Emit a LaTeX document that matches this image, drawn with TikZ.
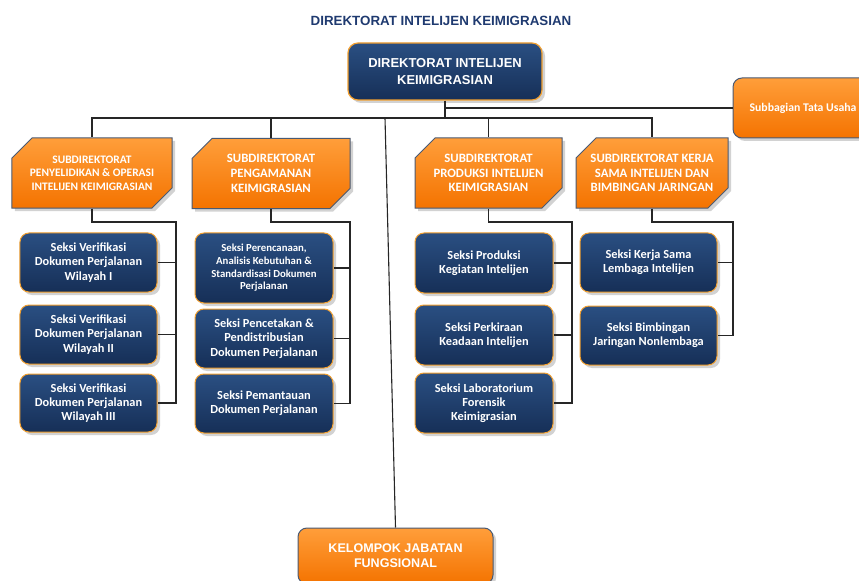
\documentclass[tikz,border=0pt]{standalone}
\usepackage{fontspec}
\setmainfont{Carlito}
\newfontfamily\arialfont{Liberation Sans}
\usetikzlibrary{shapes.misc,shadows}
\definecolor{navytop}{HTML}{2A4F82}
\definecolor{navybot}{HTML}{162F57}
\definecolor{orgtop}{HTML}{FF9E3A}
\definecolor{orgbot}{HTML}{F47300}
\definecolor{orgedge}{HTML}{F2A030}
\definecolor{grayedge}{HTML}{4A5A73}
\definecolor{titleblue}{HTML}{1F3A70}
\begin{document}
\begin{tikzpicture}[x=1bp,y=-1bp,
  conn/.style={draw=black!85,line width=1.1bp},
  shad/.style={drop shadow={opacity=0.35,shadow xshift=3bp,shadow yshift=-3bp}},
  seksi/.style={shad,rounded corners=9bp,draw=orgedge,line width=1bp,
    top color=navytop,bottom color=navybot,text=white,align=center,inner sep=2bp,
    font=\bfseries\fontsize{12.4}{14.3}\selectfont},
  subdir/.style={shad,chamfered rectangle,chamfered rectangle corners={north west,south east},
    chamfered rectangle xsep=10bp,chamfered rectangle ysep=10bp,
    draw=grayedge,line width=1bp,top color=orgtop,bottom color=orgbot,text=white,
    align=center,inner sep=2bp,minimum height=70bp,
    font=\bfseries\fontsize{12.8}{14.8}\selectfont},
  orangebox/.style={shad,rounded corners=9bp,draw=grayedge,line width=1bp,
    top color=orgtop,bottom color=orgbot,text=white,align=center,inner sep=2bp},
  topbox/.style={shad,rounded corners=10bp,draw=orgedge,line width=1.2bp,
    top color=navytop,bottom color=navybot,text=white,align=center,inner sep=2bp,
    font=\arialfont\bfseries\fontsize{13}{17}\selectfont}
]
\useasboundingbox (0,0) rectangle (859,581);
\fill[white] (0,0) rectangle (859,581);

% title
\node[text=titleblue,font=\arialfont\bfseries\fontsize{13.4}{15}\selectfont] (title) at (441,21) {DIREKTORAT INTELIJEN KEIMIGRASIAN};

% top
\node[topbox,minimum width=194bp,minimum height=57bp] (top) at (445,71.5) {DIREKTORAT INTELIJEN\\KEIMIGRASIAN};

% subbagian
\node[orangebox,minimum width=140bp,minimum height=60bp,font=\bfseries\fontsize{11.8}{14}\selectfont] (sb) at (803,108) {Subbagian Tata Usaha};

% subdirektorat
\node[subdir,minimum width=160bp,font=\bfseries\fontsize{11.5}{13.5}\selectfont] (sub1) at (92,173) {SUBDIREKTORAT\\PENYELIDIKAN \& OPERASI\\INTELIJEN KEIMIGRASIAN};
\node[subdir,minimum width=158bp] (sub2) at (271,173.5) {SUBDIREKTORAT\\PENGAMANAN\\KEIMIGRASIAN};
\node[subdir,minimum width=147bp] (sub3) at (488.5,173) {SUBDIREKTORAT\\PRODUKSI INTELIJEN\\KEIMIGRASIAN};
\node[subdir,minimum width=152bp] (sub4) at (652,173) {SUBDIREKTORAT KERJA\\SAMA INTELIJEN DAN\\BIMBINGAN JARINGAN};

% seksi column 1
\node[seksi,minimum width=137bp,minimum height=59bp] (s11) at (88.5,262.5) {Seksi Verifikasi\\Dokumen Perjalanan\\Wilayah I};
\node[seksi,minimum width=137bp,minimum height=59bp] (s12) at (88.5,334.5) {Seksi Verifikasi\\Dokumen Perjalanan\\Wilayah II};
\node[seksi,minimum width=137bp,minimum height=58bp] (s13) at (88.5,403) {Seksi Verifikasi\\Dokumen Perjalanan\\Wilayah III};

% seksi column 2
\node[seksi,minimum width=138bp,minimum height=70bp,font=\bfseries\fontsize{10.8}{12.8}\selectfont] (s21) at (264,268) {Seksi Perencanaan,\\Analisis Kebutuhan \&\\Standardisasi Dokumen\\Perjalanan};
\node[seksi,minimum width=138bp,minimum height=59bp] (s22) at (264,338.5) {Seksi Pencetakan \&\\Pendistribusian\\Dokumen Perjalanan};
\node[seksi,minimum width=138bp,minimum height=59bp] (s23) at (264,403.5) {Seksi Pemantauan\\Dokumen Perjalanan};

% seksi column 3
\node[seksi,minimum width=138bp,minimum height=60bp] (s31) at (484,263) {Seksi Produksi\\Kegiatan Intelijen};
\node[seksi,minimum width=138bp,minimum height=60bp] (s32) at (484,335) {Seksi Perkiraan\\Keadaan Intelijen};
\node[seksi,minimum width=138bp,minimum height=60bp] (s33) at (484,403) {Seksi Laboratorium\\Forensik\\Keimigrasian};

% seksi column 4
\node[seksi,minimum width=137bp,minimum height=59bp] (s41) at (648.5,262.5) {Seksi Kerja Sama\\Lembaga Intelijen};
\node[seksi,minimum width=137bp,minimum height=59bp] (s42) at (648.5,335.5) {Seksi Bimbingan\\Jaringan Nonlembaga};

% kelompok
\node[orangebox,minimum width=195bp,minimum height=56bp,font=\arialfont\bfseries\fontsize{12.6}{15}\selectfont] (kel) at (395.5,556) {KELOMPOK JABATAN\\FUNGSIONAL};

% connectors top
\coordinate (j) at (444,118);
\coordinate (kj) at (385,118);
\draw[conn] (top.south) -- (top.south |- j);
\draw[conn] (sb.west) -- (sb.west -| top.south);
\draw[conn] (sub1.north) |- (j) -| (sub4.north);
\draw[conn] (sub2.north) -- (sub2.north |- j);
\draw[conn] (sub3.north) -- (sub3.north |- j);
\draw[conn] (kj) -- (kel.north);

% brackets
\coordinate (b1) at (176,222);
\coordinate (b2) at (350,222);
\coordinate (b3) at (572,222);
\coordinate (b4) at (733,222);
\draw[conn] (sub1.south) |- (b1) |- (s13.east);
\draw[conn] (s11.east) -- (s11.east -| b1);
\draw[conn] (s12.east) -- (s12.east -| b1);
\draw[conn] (sub2.south) |- (b2) |- (s23.east);
\draw[conn] (s21.east) -- (s21.east -| b2);
\draw[conn] (s22.east) -- (s22.east -| b2);
\draw[conn] (sub3.south) |- (b3) |- (s33.east);
\draw[conn] (s31.east) -- (s31.east -| b3);
\draw[conn] (s32.east) -- (s32.east -| b3);
\draw[conn] (sub4.south) |- (b4) |- (s42.east);
\draw[conn] (s41.east) -- (s41.east -| b4);
\end{tikzpicture}
\end{document}
